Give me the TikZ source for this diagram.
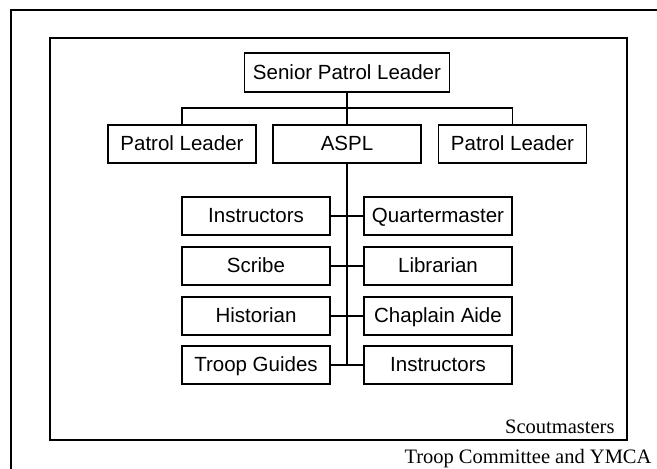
\documentclass[tikz,border=0pt]{standalone}
\usepackage{fontspec}
\setmainfont{Liberation Serif}
\newfontfamily\boxfont{Liberation Sans}
\usetikzlibrary{positioning, calc}

\tikzset{
  rolebox/.style={draw, line width=1.3pt, minimum width=148pt, minimum height=38pt, inner sep=0pt, text height=14pt, text depth=1pt, font=\boxfont\fontsize{20.5}{22}\selectfont},
  link/.style={line width=1.3pt}
}

\begin{document}
\begin{tikzpicture}[x=1pt, y=-1pt]
  \useasboundingbox (0,0) rectangle (657,469);
  \clip (0,0) rectangle (657,469);
  % frames
  \draw[line width=1.3pt] (11,10) rectangle (700,520);
  \draw[line width=1.3pt] (50,38) rectangle (627,440);
  \node[anchor=base east, font=\fontsize{20.5}{22}\selectfont] (sm) at (618,433) {Scoutmasters};
  \node[anchor=base east, font=\fontsize{20.5}{22}\selectfont] (tc) at (655,463.5) {Troop Committee and YMCA};

  % leaders
  \node[rolebox, minimum width=205pt, minimum height=39pt] (spl) at (347,72.5) {Senior Patrol Leader};
  \node[rolebox] (plleft) at (182,144) {Patrol Leader};
  \node[rolebox] (aspl) at (347,144) {ASPL};
  \node[rolebox] (plright) at (512.5,144) {Patrol Leader};

  % staff
  \node[rolebox] (inst1) at (256,216) {Instructors};
  \node[rolebox] (qm) at (438,216) {Quartermaster};
  \node[rolebox] (scribe) at (256,266) {Scribe};
  \node[rolebox] (lib) at (438,266) {Librarian};
  \node[rolebox] (hist) at (256,316) {Historian};
  \node[rolebox] (chap) at (438,316) {Chaplain Aide};
  \node[rolebox] (guides) at (256,365) {Troop Guides};
  \node[rolebox] (inst2) at (438,365) {Instructors};

  % connectors
  \coordinate (bus) at (347,108);
  \draw[link] (spl.south) -- (bus);
  \draw[link] (plleft.north) |- (bus) -| (plright.north);
  \draw[link] (bus) -- (aspl.north);
  \coordinate (spine) at (347,365);
  \draw[link] (aspl.south) -- (spine);
  \draw[link] (inst1.east) -- (qm.west);
  \draw[link] (scribe.east) -- (lib.west);
  \draw[link] (hist.east) -- (chap.west);
  \draw[link] (guides.east) -- (inst2.west);
\end{tikzpicture}
\end{document}
